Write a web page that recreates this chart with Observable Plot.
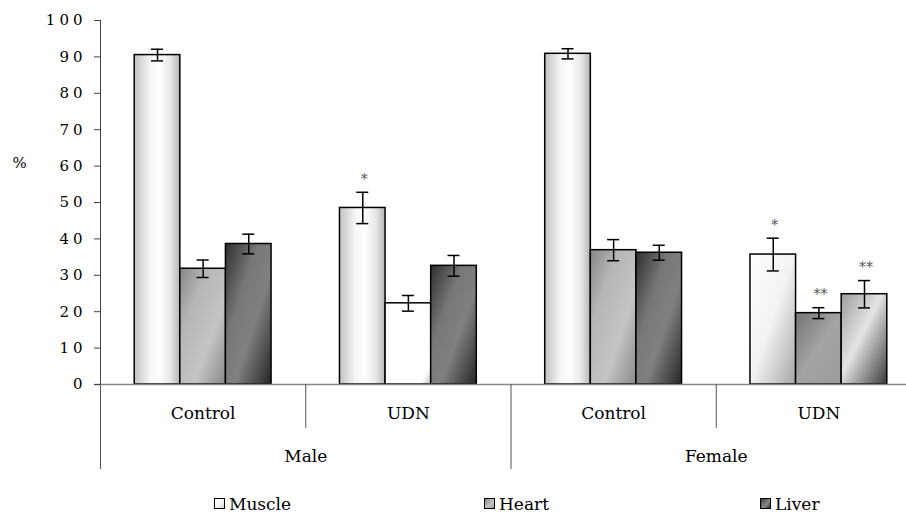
<!DOCTYPE html>
<html><head><meta charset="utf-8">
<script src="https://cdn.jsdelivr.net/npm/d3@7"></script>
<script src="https://cdn.jsdelivr.net/npm/@observablehq/plot@0.6"></script>
<style>
body{margin:0;background:#fff;font-family:"DejaVu Serif",serif;}
#wrap{position:relative;width:906px;height:517px;overflow:hidden;}
#legend{position:absolute;left:0;top:490px;width:906px;height:27px;}
.item{position:absolute;top:0;height:27px;display:flex;align-items:center;font-size:17px;color:#000;}
.sw{width:9px;height:9px;border:1px solid #000;margin-right:4px;}
g[aria-label="y-axis tick label"] text{letter-spacing:4px;}
g[aria-label="cat"] text{letter-spacing:1px;}
g[aria-label="stars"] text{letter-spacing:3px;}
</style></head><body><div id="wrap"><div id="chart"></div><div id="legend"></div></div>
<script>
// ---- data ----
const sexes = ["Male", "Male", "Female", "Female"];
const treatments = ["Control", "UDN", "Control", "UDN"];
const tissues = ["Muscle", "Heart", "Liver"];
const muscle = [90.5, 48.5, 90.85, 35.7];
const muscleErr = [1.6, 4.3, 1.4, 4.5];
const heart = [31.8, 22.3, 36.9, 19.6];
const heartErr = [2.4, 2.15, 2.9, 1.5];
const liver = [38.6, 32.6, 36.2, 24.8];
const liverErr = [2.7, 2.85, 2.05, 3.75];
const muscleSig = ["", "*", "", "*"];
const heartSig = ["", "", "", "**"];
const liverSig = ["", "", "", "**"];
const yTicks = [0, 10, 20, 30, 40, 50, 60, 70, 80, 90, 100];
const sexLabels = ["Male", "Female"];

// ---- table ----
const vals = [muscle, heart, liver], errs = [muscleErr, heartErr, liverErr], sigs = [muscleSig, heartSig, liverSig];
const gradFor = (g, k) => {
  if (g === 1 && k === 1) return "gHeartW";
  if (g === 3) return ["gMuscleF", "gHeartF", "gLiverF"][k];
  return ["gMuscle", "gHeart", "gLiver"][k];
};
const rows = [];
sexes.forEach((s, g) => tissues.forEach((t, k) => {
  const x1 = g + 1/6 + k * 2/9;
  rows.push({g, sex: s, treatment: treatments[g], tissue: t, value: vals[k][g], err: errs[k][g],
    sig: sigs[k][g], x1, x2: x1 + 2/9, xc: x1 + 1/9, grad: gradFor(g, k)});
}));
const groups = treatments.map((t, g) => ({t, xc: g + 0.5}));
const sexRows = sexLabels.map((s, i) => ({s, xc: 2 * i + 1}));

const chart = Plot.plot({
  width: 906, height: 490,
  marginTop: 20, marginBottom: 106, marginLeft: 100, marginRight: 0,
  style: {fontFamily: "DejaVu Serif, serif", background: "#fff", overflow: "hidden"},
  x: {domain: [0, 4], range: [100, 921], axis: null},
  y: {domain: [0, 100], axis: null},
  marks: [
    Plot.rect(rows, {x1: "x1", x2: "x2", y1: 0, y2: "value", fill: d => `url(#${d.grad})`, stroke: "#000", strokeWidth: 1.5}),
    Plot.ruleY([0], {stroke: "#888", strokeWidth: 1.5, insetLeft: -6}),
    Plot.axisY({ticks: yTicks, tickSize: 6, tickPadding: 8, fontSize: 15, label: null, stroke: "#444", color: "#000"}),
    Plot.ruleX([0], {y1: 0, y2: 100, stroke: "#444", strokeWidth: 1}),
    Plot.ruleX([0, 2, 4], {y1: 0, y2: 0, insetBottom: -85, stroke: "#555", strokeWidth: 1}),
    Plot.ruleX([1, 3], {y1: 0, y2: 0, insetBottom: -44, stroke: "#555", strokeWidth: 1}),
    Plot.ruleX(rows, {x: "xc", y1: d => d.value - d.err, y2: d => d.value + d.err, stroke: "#000", strokeWidth: 1.5}),
    Plot.ruleY(rows, {x1: "xc", x2: "xc", y: d => d.value + d.err, insetLeft: -6, insetRight: -6, stroke: "#000", strokeWidth: 1.5}),
    Plot.ruleY(rows, {x1: "xc", x2: "xc", y: d => d.value - d.err, insetLeft: -6, insetRight: -6, stroke: "#000", strokeWidth: 1.5}),
    Plot.text(rows.filter(d => d.sig), {x: "xc", y: d => d.value + d.err, text: "sig", dy: -13, dx: 1.5, fontSize: 14, fill: "#555", ariaLabel: "stars"}),
    Plot.text(groups, {x: "xc", y: 0, text: "t", dy: 29, fontSize: 17, fill: "#000", ariaLabel: "cat"}),
    Plot.text(sexRows, {x: "xc", y: 0, text: "s", dy: 72, fontSize: 17, fill: "#000", ariaLabel: "cat"}),
    Plot.text(["%"], {frameAnchor: "top-left", dx: -81, dy: 143, textAnchor: "middle", lineAnchor: "middle", fontSize: 15, fill: "#000"})
  ]
});

// gradients
const defs = d3.select(chart).insert("defs", ":first-child");
function grad(id, x1, y1, x2, y2, stops) {
  const g = defs.append("linearGradient").attr("id", id).attr("x1", x1).attr("y1", y1).attr("x2", x2).attr("y2", y2);
  stops.forEach(([o, c]) => g.append("stop").attr("offset", o).attr("stop-color", c));
}
grad("gMuscle", 0, 0, 1, 0, [[0, "#c2c2c2"], [0.35, "#f6f6f6"], [0.55, "#ffffff"], [0.8, "#e6e6e6"], [1, "#b4b4b4"]]);
grad("gHeart", 0, 0, 1, 1, [[0, "#868686"], [0.3, "#b6b6b6"], [0.65, "#c4c4c4"], [1, "#888888"]]);
grad("gLiver", 0, 0, 1, 1, [[0, "#2e2e2e"], [0.35, "#777777"], [0.6, "#808080"], [1, "#262626"]]);
grad("gHeartW", 0, 0, 1, 1, [[0, "#ffffff"], [0.88, "#ffffff"], [1, "#c4c4c4"]]);
grad("gMuscleF", 0, 0, 1, 1, [[0, "#ffffff"], [0.5, "#f2f2f2"], [1, "#a6a6a6"]]);
grad("gHeartF", 0, 0, 1, 1, [[0, "#747474"], [0.5, "#a4a4a4"], [1, "#9a9a9a"]]);
grad("gLiverF", 0, 0, 1, 1, [[0, "#9c9c9c"], [0.45, "#e4e4e4"], [1, "#3a3a3a"]]);

document.getElementById("chart").appendChild(chart);

// legend
const legendCss = {
  Muscle: "linear-gradient(135deg,#ffffff,#f2f2f2 60%,#cfcfcf)",
  Heart: "linear-gradient(135deg,#8a8a8a,#c4c4c4 60%,#9a9a9a)",
  Liver: "linear-gradient(135deg,#444,#888 60%,#333)"
};
const legendLeft = [214, 484, 760];
const leg = document.getElementById("legend");
tissues.forEach((t, i) => {
  const it = document.createElement("div");
  it.className = "item";
  it.style.left = legendLeft[i] + "px";
  it.innerHTML = `<span class="sw" style="background:${legendCss[t]}"></span><span>${t}</span>`;
  leg.appendChild(it);
});
</script></body></html>
